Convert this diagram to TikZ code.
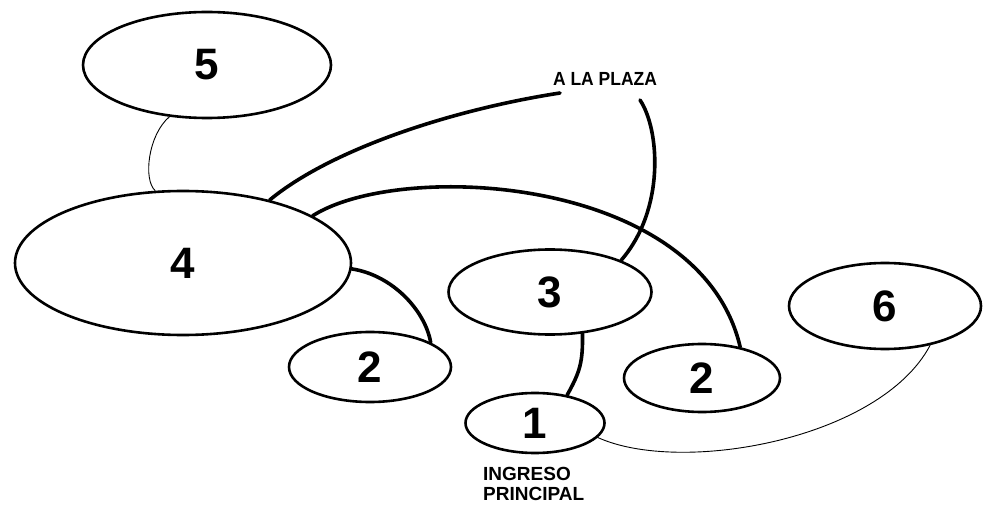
\documentclass[tikz,border=0pt]{standalone}
\usepackage{fontspec}
\setmainfont{Liberation Sans}
\usetikzlibrary{shapes.geometric}
\tikzset{
  area/.style={ellipse, draw, line width=2.6pt, inner sep=0pt, font=\fontsize{44}{44}\selectfont\bfseries},
  thickcon/.style={line width=3.6pt, line cap=round},
  thincon/.style={line width=0.9pt},
  lbl/.style={font=\fontsize{19}{20}\selectfont\bfseries, inner sep=0pt}
}
\begin{document}
\begin{tikzpicture}[x=1pt,y=-1pt]
\useasboundingbox[fill=white] (0,0) rectangle (983,505);
\node[area, minimum width=248pt, minimum height=106pt] (n5) at (207,65) {5};
\node[area, minimum width=336pt, minimum height=144pt] (n4) at (183,263) {4};
\node[area, minimum width=162pt, minimum height=70pt] (n2a) at (370,367) {2};
\node[area, minimum width=203pt, minimum height=85pt] (n3) at (550,292) {3};
\node[area, minimum width=156pt, minimum height=68pt] (n2b) at (702,378) {2};
\node[area, minimum width=139pt, minimum height=60pt] (n1) at (535,423) {1};
\node[area, minimum width=192pt, minimum height=86pt] (n6) at (885,306) {6};

\node[lbl, xscale=0.92] (plaza) at (605,79) {A LA PLAZA};
\node[lbl, anchor=north west, align=left] (ingreso) at (483,467) {INGRESO\\PRINCIPAL};

\coordinate (p1) at (560,93);
\coordinate (p2) at (640,100);

\draw[thincon] (n5.-126) .. controls (148,135) and (143,180) .. (n4.111);
\draw[thickcon] (n4.36) .. controls (330,150) and (450,110) .. (p1);
\draw[thickcon] (p2) .. controls (660,130) and (665,210) .. (n3.24);
\draw[thickcon] (n4.20) .. controls (400,160) and (700,175) .. (n2b.39);
\draw[thickcon] (n4.-2) .. controls (392,275) and (425,310) .. (n2a.22);
\draw[thickcon] (n3.-52) .. controls (583,362) and (580,372) .. (n1.41);
\draw[thincon] (n1.-13) .. controls (680,475) and (880,440) .. (n6.-41);
\end{tikzpicture}
\end{document}
